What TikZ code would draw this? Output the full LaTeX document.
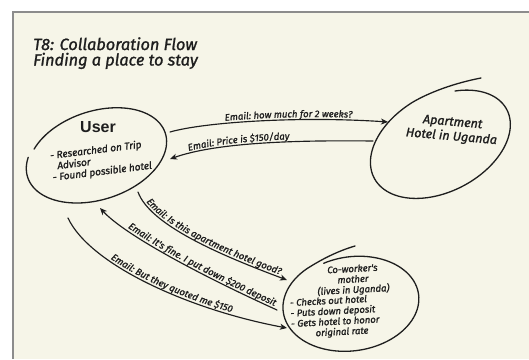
\documentclass[tikz,border=0pt]{standalone}
\usepackage{fontspec}
\setmainfont{Fira Sans}
\newfontfamily\handfont{Fira Sans}[FakeBold=1.3]
\newfontfamily\labelsans{Liberation Sans}
\usetikzlibrary{arrows.meta,decorations.text}

\definecolor{paper}{RGB}{246,245,232}
\definecolor{ink}{RGB}{30,30,30}
\definecolor{framegray}{RGB}{140,140,140}

\newcommand{\handsize}[2]{\handfont\itshape\fontsize{#1}{#2}\selectfont}

\tikzset{
  sketch/.style={draw=ink, line width=1.3pt, line cap=round},
  msg/.style={draw=ink, line width=1.15pt, line cap=round},
  tipend/.style={-{Stealth[length=7pt,width=6pt,inset=2pt]}},
  tipstart/.style={{Stealth[length=7pt,width=6pt,inset=2pt]}-},
  lbl/.style 2 args={postaction={decorate, decoration={text along path,
      text color=ink, raise=2.5pt, text align={#1},
      text={|\handsize{9.5}{11}|#2}}}},
  handtext/.style={text=ink, inner sep=0pt},
}

\begin{document}
\begin{tikzpicture}[x=1pt,y=-1pt]
\useasboundingbox (0,0) rectangle (529,359);
% sheet of paper
\fill[white] (0,0) rectangle (529,359);
\fill[paper] (13,12) rectangle (529,359);
\draw[framegray, line width=1.2pt] (13,359) -- (13,12) -- (529,12);

% heading
\node[handtext, anchor=base west, font=\handsize{16.3}{18}] (title) at (33,50) {T8: Collaboration Flow};
\node[handtext, anchor=base west, font=\handsize{16.3}{18}] (subtitle) at (33,65.5) {Finding a place to stay};

% user bubble
\draw[sketch] plot[domain=215:565, samples=100, variable=\t]
  ({97 + (0.97+0.03*(\t-215)/350)*(73*cos(\t)*0.951 + 45*sin(\t)*0.309)},
   {155 + (0.97+0.03*(\t-215)/350)*(-73*cos(\t)*0.309 + 45*sin(\t)*0.951)});
\node[handtext, font=\labelsans\bfseries\fontsize{16}{18}\selectfont] (user) at (98,127.5) {User};
\node[handtext, rotate=7, align=left, font=\handsize{10}{11}] (userNotes) at (101,161)
  {- Researched on Trip\\\hspace*{6pt}Advisor\\- Found possible hotel};

% hotel bubble
\draw[sketch] plot[domain=-60:265, samples=100, variable=\t]
  ({442 + (0.92+0.08*(\t+60)/325)*(78*cos(\t)*0.883 + 50*sin(\t)*0.469)},
   {143 + (0.92+0.08*(\t+60)/325)*(-78*cos(\t)*0.469 + 50*sin(\t)*0.883)})
  .. controls (430,92) and (455,83) .. (481,78);
\node[handtext, rotate=-5, align=center, font=\handsize{12.5}{14.5}] (hotel) at (452,130)
  {Apartment\\Hotel in Uganda};

% co-worker's mother bubble
\draw[sketch] plot[domain=-110:235, samples=100, variable=\t]
  ({352 + (0.94+0.06*(\t+110)/345)*(70*cos(\t)*0.990 + 49*sin(\t)*0.139)},
   {303 + (0.94+0.06*(\t+110)/345)*(-70*cos(\t)*0.139 + 49*sin(\t)*0.990)})
  .. controls (322,259) and (338,251) .. (355,246);
\node[handtext, rotate=3, align=center, font=\handsize{9.5}{10.5}] (mother) at (353,280)
  {Co-worker's\\mother\\(lives in Uganda)};
\node[handtext, rotate=3, align=left, font=\handsize{9.5}{10.5}] (motherNotes) at (335,317)
  {- Checks out hotel\\- Puts down deposit\\- Gets hotel to honor\\\hspace*{24pt}original rate};

% connector ends on the bubbles
\coordinate (u1) at (170,132);
\coordinate (h1) at (388,122);
\coordinate (u2) at (170,159);
\coordinate (h2) at (373,141);
\coordinate (u3) at (138,192);
\coordinate (m3) at (287,280);
\coordinate (u4) at (100,208);
\coordinate (m4) at (277,310);
\coordinate (u5) at (68,218);
\coordinate (m5) at (287,328);

% e-mail exchanges
\draw[msg, tipend, lbl={left indent=56pt}{Email: how much for 2 weeks?}]
  (u1) .. controls (205,122) and (300,116) .. (h1);
\draw[msg, tipstart, lbl={left indent=20pt}{Email: Price is {\$}150/day}]
  (u2) .. controls (215,143) and (290,140) .. (h2);
\draw[msg, tipend, lbl={left indent=13pt}{Email: Is this apartment hotel good?}]
  (u3) .. controls (150,225) and (220,255) .. (m3);
\draw[msg, tipstart, lbl={right, right indent=4pt}{Email: It's fine. I put down {\$}200 deposit}]
  (u4) .. controls (125,235) and (200,275) .. (m4);
\draw[msg, tipend, lbl={left indent=60pt}{Email: But they quoted me {\$}150}]
  (u5) .. controls (90,265) and (190,310) .. (m5);
\end{tikzpicture}
\end{document}
